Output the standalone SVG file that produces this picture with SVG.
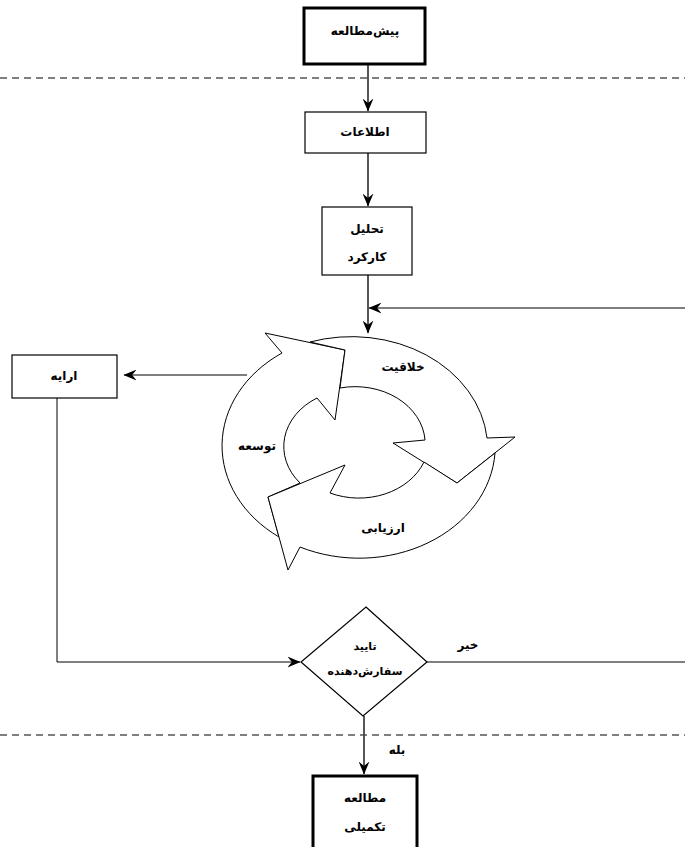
<svg xmlns="http://www.w3.org/2000/svg" width="685" height="847" viewBox="0 0 685 847">
<style>
.box{fill:#fff;stroke:#000;stroke-width:1.2}
.thick{fill:#fff;stroke:#000;stroke-width:3}
.t{font-family:"DejaVu Sans",sans-serif;font-size:12px;font-weight:bold;fill:#000;text-anchor:middle;dominant-baseline:central}
.s{font-size:11px}
.c{fill:none;stroke:#444;stroke-width:1.8}
.h{fill:none;stroke:#000;stroke-width:1}
.d{fill:none;stroke:#000;stroke-width:1.2;stroke-dasharray:7,5}
.ring{fill:#fff;stroke:#000;stroke-width:1;stroke-linejoin:miter}
</style>
<defs>
<marker id="ah" viewBox="0 0 12 10" refX="11.5" refY="5" markerWidth="13" markerHeight="11" orient="auto" markerUnits="userSpaceOnUse">
<path d="M0,0 L12,5 L0,10 L4,5 Z" fill="#000"/>
</marker>
</defs>
<rect width="685" height="847" fill="#fff"/>
<g id="dividers">
<line class="d" x1="0" y1="78" x2="685" y2="78"/>
<line class="d" x1="0" y1="735" x2="685" y2="735"/>
</g>
<g id="connectors">
<line class="c" x1="368" y1="64" x2="368" y2="111" marker-end="url(#ah)"/>
<line class="c" x1="368" y1="153" x2="368" y2="206" marker-end="url(#ah)"/>
<line class="c" x1="368" y1="275" x2="368" y2="333" marker-end="url(#ah)"/>
<line class="h" x1="685" y1="308" x2="369" y2="308" marker-end="url(#ah)"/>
<line class="h" x1="247" y1="375" x2="124" y2="375" marker-end="url(#ah)"/>
<polyline class="h" points="57,398 57,662 300,662" marker-end="url(#ah)"/>
<line class="h" x1="427" y1="662" x2="685" y2="662"/>
<line class="c" x1="364" y1="716" x2="364" y2="774" marker-end="url(#ah)"/>
<text class="t" x="468" y="645">خیر</text>
<text class="t" x="397" y="750">بله</text>
</g>
<g id="n-pre">
<rect class="thick" x="304" y="8" width="121" height="56"/>
<text class="t" x="365" y="31">پیش&#x200C;مطالعه</text>
</g>
<g id="n-info">
<rect class="box" x="305" y="112" width="121" height="41"/>
<text class="t" x="365" y="132">اطلاعات</text>
</g>
<g id="n-analysis">
<rect class="box" x="322" y="207" width="90" height="68"/>
<text class="t" x="367" y="229">تحلیل</text>
<text class="t" x="367" y="257">کارکرد</text>
</g>
<g id="n-cycle">
<path class="ring" d="M300,483 A70,57 0 0 1 317,398 L335,420 L345,350 L265,333 L282,353 A136,112 0 0 0 279,537 L268,497 Z"/>
<path class="ring" d="M310,342 A136,112 0 0 1 487,438 L515,437 L457,483 L393,443 L425,440 A70,57 0 0 0 340,388 L345,350 Z"/>
<path class="ring" d="M495,453 A136,112 0 0 1 300,547 L288,570 L268,497 L345,465 L330,493 A70,57 0 0 0 424,462 L457,483 Z"/>
<text class="t" x="403" y="367">خلاقیت</text>
<text class="t" x="257" y="446">توسعه</text>
<text class="t" x="383" y="528">ارزیابی</text>
</g>
<g id="n-present">
<rect class="box" x="12" y="355" width="105" height="43"/>
<text class="t" x="64" y="376">ارایه</text>
</g>
<g id="n-approve">
<polygon class="box" points="366,607 427,662 363,716 301,662"/>
<text class="t s" x="365" y="646">تایید</text>
<text class="t s" x="365" y="671">سفارش&#x200C;دهنده</text>
</g>
<g id="n-final">
<rect class="thick" x="313" y="776" width="104" height="80"/>
<text class="t" x="365" y="798">مطالعه</text>
<text class="t" x="365" y="827">تکمیلی</text>
</g>
</svg>
